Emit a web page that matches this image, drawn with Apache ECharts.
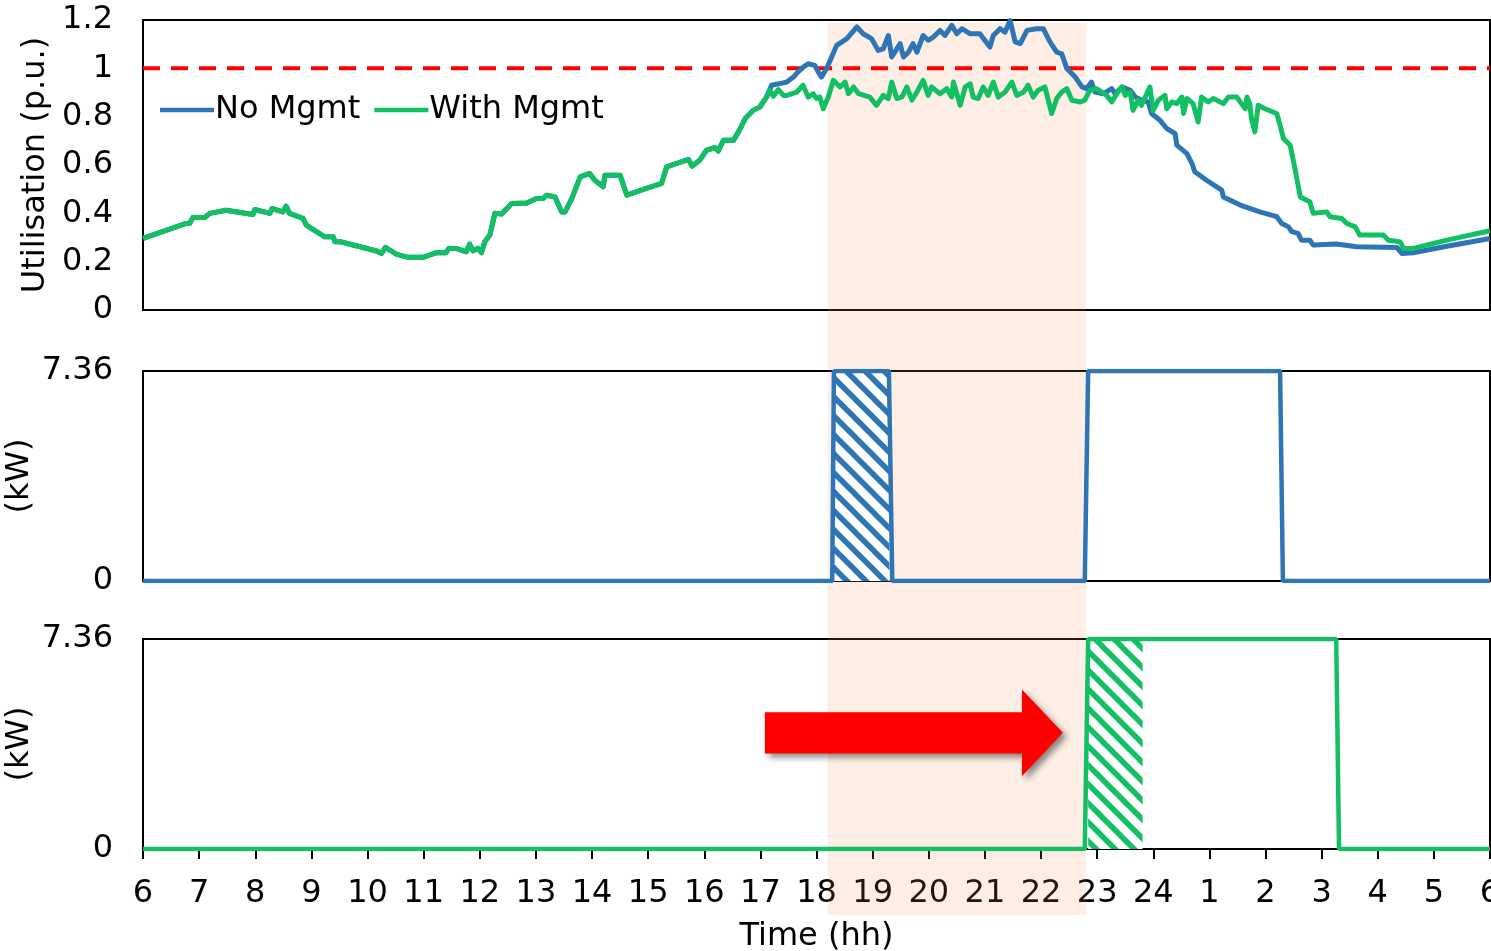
<!DOCTYPE html>
<html>
<head>
<meta charset="utf-8">
<script src="https://cdn.jsdelivr.net/npm/echarts@6/dist/echarts.min.js"></script>
<style>
  html, body { margin: 0; padding: 0; background: #fff; }
  #chart { width: 1491px; height: 951px; }
</style>
</head>
<body>
<div id="chart"></div>
<script>
// Time is in hours from 06:00 to 06:00 the next day; values above 24 fall after midnight.

// Transformer utilisation (p.u.), identical for both cases until the evening
const utilShared = [
  [6.00,0.296],[6.77,0.358],[6.83,0.358],[6.89,0.383],[7.10,0.383],[7.19,0.400],[7.48,0.413],
  [7.96,0.395],[7.99,0.416],[8.26,0.400],[8.30,0.420],[8.49,0.406],[8.55,0.430],[8.61,0.400],
  [8.85,0.379],[8.91,0.351],[9.09,0.324],[9.24,0.303],[9.39,0.303],[9.42,0.282],[9.53,0.282],
  [9.71,0.271],[10.16,0.244],[10.25,0.234],[10.32,0.259],[10.42,0.245],[10.51,0.231],[10.72,0.218],
  [10.99,0.218],[11.23,0.237],[11.40,0.237],[11.45,0.255],[11.58,0.255],[11.76,0.241],[11.82,0.273],
  [11.88,0.245],[11.97,0.255],[12.03,0.237],[12.09,0.282],[12.18,0.310],[12.27,0.400],[12.39,0.397],
  [12.57,0.441],[12.84,0.443],[13.01,0.461],[13.13,0.461],[13.19,0.475],[13.34,0.468],[13.46,0.406],
  [13.52,0.406],[13.64,0.461],[13.79,0.551],[13.96,0.565],[14.05,0.537],[14.20,0.510],[14.23,0.558],
  [14.50,0.558],[14.62,0.475],[14.97,0.503],[15.24,0.524],[15.33,0.592],[15.72,0.623],[15.78,0.595],
  [15.92,0.620],[16.04,0.661],[16.19,0.672],[16.25,0.658],[16.34,0.702],[16.52,0.702],[16.61,0.737],
  [16.73,0.792],[16.87,0.826],[16.99,0.840],[17.11,0.881]
];

// Evening utilisation without charging management
const utilNoMgmtEvening = [
  [17.20,0.930],[17.47,0.943],[17.59,0.964],[17.67,0.985],[17.77,1.006],[17.85,1.019],[17.97,1.012],
  [18.03,0.985],[18.09,0.964],[18.18,0.999],[18.36,1.095],[18.54,1.123],[18.72,1.171],[18.83,1.143],
  [18.98,1.123],[19.10,1.074],[19.19,1.081],[19.28,1.136],[19.34,1.047],[19.49,1.102],[19.55,1.047],
  [19.64,1.067],[19.72,1.102],[19.79,1.067],[19.90,1.136],[19.99,1.116],[20.08,1.129],[20.20,1.157],
  [20.29,1.136],[20.41,1.178],[20.50,1.143],[20.59,1.164],[20.74,1.143],[20.91,1.143],[21.09,1.088],
  [21.15,1.136],[21.27,1.164],[21.36,1.150],[21.45,1.198],[21.54,1.109],[21.63,1.102],[21.75,1.157],
  [21.92,1.164],[22.04,1.164],[22.16,1.109],[22.28,1.067],[22.37,1.060],[22.46,0.999],[22.61,0.964],
  [22.73,0.923],[22.81,0.916],[22.90,0.943],[22.96,0.902],[23.11,0.895],[23.26,0.916],[23.32,0.895],
  [23.44,0.923],[23.59,0.909],[23.68,0.881],[23.79,0.868],[23.91,0.861],[23.97,0.813],[24.12,0.785],
  [24.24,0.751],[24.39,0.730],[24.42,0.682],[24.60,0.647],[24.69,0.606],[24.74,0.572],[24.95,0.537],
  [25.22,0.496],[25.25,0.468],[25.55,0.434],[25.90,0.406],[26.20,0.386],[26.29,0.358],[26.41,0.344],
  [26.47,0.324],[26.58,0.317],[26.64,0.289],[26.79,0.289],[26.85,0.269],[27.27,0.273],[27.62,0.262],
  [28.34,0.259],[28.43,0.234],[28.63,0.237],[29.23,0.264],[30.00,0.296]
];

// Evening utilisation with charging management
const utilWithMgmtEvening = [
  [17.17,0.909],[17.23,0.884],[17.32,0.912],[17.41,0.888],[17.47,0.888],[17.65,0.902],[17.76,0.930],
  [17.85,0.881],[17.94,0.895],[18.00,0.875],[18.06,0.881],[18.12,0.833],[18.21,0.881],[18.30,0.950],
  [18.42,0.923],[18.51,0.943],[18.57,0.895],[18.66,0.923],[18.75,0.895],[18.95,0.881],[19.07,0.847],
  [19.19,0.888],[19.28,0.875],[19.34,0.943],[19.43,0.875],[19.52,0.881],[19.61,0.923],[19.70,0.868],
  [19.79,0.902],[19.90,0.950],[19.99,0.888],[20.05,0.923],[20.20,0.895],[20.32,0.916],[20.41,0.881],
  [20.44,0.943],[20.56,0.847],[20.65,0.923],[20.74,0.936],[20.79,0.881],[20.88,0.875],[20.97,0.923],
  [21.06,0.888],[21.15,0.943],[21.24,0.881],[21.36,0.902],[21.48,0.943],[21.57,0.888],[21.69,0.902],
  [21.77,0.930],[21.86,0.881],[21.95,0.909],[22.07,0.923],[22.19,0.813],[22.28,0.875],[22.37,0.902],
  [22.46,0.916],[22.55,0.868],[22.70,0.861],[22.78,0.868],[22.87,0.909],[22.99,0.916],[23.17,0.888],
  [23.26,0.861],[23.35,0.895],[23.44,0.923],[23.50,0.888],[23.59,0.902],[23.64,0.826],[23.73,0.868],
  [23.79,0.847],[23.94,0.923],[24.00,0.826],[24.09,0.868],[24.21,0.888],[24.24,0.833],[24.33,0.861],
  [24.42,0.854],[24.51,0.881],[24.54,0.813],[24.60,0.875],[24.71,0.854],[24.80,0.778],[24.86,0.881],
  [24.98,0.861],[25.07,0.875],[25.25,0.854],[25.34,0.881],[25.49,0.881],[25.55,0.861],[25.64,0.833],
  [25.67,0.881],[25.72,0.854],[25.75,0.792],[25.81,0.737],[25.87,0.847],[25.99,0.833],[26.20,0.813],
  [26.26,0.764],[26.32,0.709],[26.44,0.682],[26.53,0.579],[26.62,0.468],[26.79,0.448],[26.85,0.400],
  [27.09,0.406],[27.15,0.386],[27.36,0.379],[27.45,0.358],[27.60,0.344],[27.68,0.310],[28.10,0.310],
  [28.19,0.289],[28.40,0.282],[28.46,0.255],[28.63,0.255],[29.23,0.289],[30.00,0.328]
];

const thermalLimit = [[6, 1.0], [30, 1.0]];

// EV charging power (kW)
const chargerRating = 7.36;
const chargeNoMgmt = [
  [6,0],[18.28,0],[18.31,7.36],[19.29,7.36],[19.35,0],[22.78,0],[22.84,7.36],[26.26,7.36],[26.31,0],[30,0]
];
const chargeWithMgmt = [
  [6,0],[22.78,0],[22.84,7.36],[27.26,7.36],[27.31,0],[30,0]
];

// Hour of charging moved out of the evening peak: [start, end, kW]
const shiftedNoMgmt = [[18.31, 19.30, 7.36]];
const shiftedWithMgmt = [[22.84, 23.81, 7.36]];

// Evening peak window and the shift arrow: [from, to, kW level]
const peakWindow = [18.2, 22.8];
const shiftArrow = [[17.08, 22.39, 4.07]];

const hourLabel = v => (v > 24 ? v - 24 : v);

const FONT = 'DejaVu Sans';
const BLUE = '#2e75b6';
const GREEN = '#12bf62';

function hatchFill(color) {
  const s = 19;
  const c = document.createElement('canvas');
  c.width = s; c.height = s;
  const g = c.getContext('2d');
  g.strokeStyle = color;
  g.lineWidth = 5.5;
  for (const o of [-s, 0, s]) {
    g.beginPath();
    g.moveTo(o - 3, -3);
    g.lineTo(o + s + 3, s + 3);
    g.stroke();
  }
  return { image: c, repeat: 'repeat' };
}

function hatchRenderer(color) {
  const fill = hatchFill(color);
  return function (params, api) {
    const tl = api.coord([api.value(0), api.value(2)]);
    const br = api.coord([api.value(1), 0]);
    const shape = { x: tl[0], y: tl[1], width: br[0] - tl[0], height: br[1] - tl[1] };
    return {
      type: 'group',
      children: [
        { type: 'rect', shape: shape, style: { fill: '#fff' } },
        { type: 'rect', shape: shape, style: { fill: fill } }
      ]
    };
  };
}

function renderArrow(params, api) {
  const start = api.coord([api.value(0), api.value(2)]);
  const end = api.coord([api.value(1), api.value(2)]);
  const shaftHalf = api.size([0, 0.72])[1];
  const headHalf = api.size([0, 1.52])[1];
  const headLen = api.size([0.73, 0])[0];
  const y = start[1];
  const xh = end[0] - headLen;
  return {
    type: 'polygon',
    shape: {
      points: [
        [start[0], y - shaftHalf], [xh, y - shaftHalf], [xh, y - headHalf], [end[0], y],
        [xh, y + headHalf], [xh, y + shaftHalf], [start[0], y + shaftHalf]
      ]
    },
    style: {
      fill: '#ff0000',
      shadowBlur: 6,
      shadowColor: 'rgba(0,0,0,0.45)',
      shadowOffsetX: 4,
      shadowOffsetY: 4
    }
  };
}

const gridBox = {
  left: 143, right: 1, outerBoundsMode: 'none', containLabel: false,
  show: true, borderColor: '#000', borderWidth: 2, backgroundColor: 'transparent'
};
const hiddenX = (gridIndex) => ({
  type: 'value', gridIndex, min: 6, max: 30, interval: 1,
  axisLine: { show: false }, axisTick: { show: false }, axisLabel: { show: false }, splitLine: { show: false }
});
const labelStyle = { fontFamily: FONT, fontSize: 32, color: '#000' };
const kwAxis = (gridIndex) => ({
  type: 'value', gridIndex, min: 0, max: chargerRating, interval: chargerRating,
  name: '(kW)', nameLocation: 'middle', nameGap: 107, nameMoveOverlap: false,
  nameTextStyle: labelStyle,
  axisLine: { show: false }, axisTick: { show: false }, splitLine: { show: false },
  axisLabel: Object.assign({ margin: 30 }, labelStyle)
});

const chart = echarts.init(document.getElementById('chart'), null, { renderer: 'canvas' });

chart.setOption({
  animation: false,
  backgroundColor: '#fff',
  textStyle: { fontFamily: FONT },
  legend: {
    data: ['No Mgmt', 'With Mgmt'],
    left: 160, top: 94, padding: 0,
    icon: 'rect', itemWidth: 54, itemHeight: 4.5, itemGap: 14,
    textStyle: { fontFamily: FONT, fontSize: 32, color: '#000', padding: [0, 0, 0, -4] }
  },
  grid: [
    Object.assign({ top: 20, height: 290 }, gridBox),
    Object.assign({ top: 371, height: 210 }, gridBox),
    Object.assign({ top: 639, height: 210 }, gridBox),
    { left: 143, right: 1, top: 23, height: 892, show: false, outerBoundsMode: 'none' }
  ],
  xAxis: [
    hiddenX(0),
    hiddenX(1),
    {
      type: 'value', gridIndex: 2, min: 6, max: 30, interval: 1,
      name: 'Time (hh)', nameLocation: 'middle', nameGap: 72,
      nameTextStyle: labelStyle,
      axisLine: { show: true, lineStyle: { color: '#000', width: 2 } },
      axisTick: { show: true, length: 10, lineStyle: { color: '#000', width: 2 } },
      splitLine: { show: false },
      axisLabel: Object.assign({ margin: 29, showMinLabel: true, showMaxLabel: true, formatter: hourLabel }, labelStyle)
    },
    hiddenX(3)
  ],
  yAxis: [
    {
      type: 'value', gridIndex: 0, min: 0, max: 1.2, interval: 0.2,
      name: 'Utilisation (p.u.)', nameLocation: 'middle', nameGap: 88,
      nameTextStyle: labelStyle,
      axisLine: { show: false }, axisTick: { show: false }, splitLine: { show: false },
      axisLabel: Object.assign({ margin: 30 }, labelStyle)
    },
    kwAxis(1),
    kwAxis(2),
    { type: 'value', gridIndex: 3, min: 0, max: 1, show: false }
  ],
  series: [
    {
      name: 'Limit', type: 'line', xAxisIndex: 0, yAxisIndex: 0, data: thermalLimit,
      showSymbol: false, silent: true, z: 1,
      lineStyle: { color: '#ff0000', width: 4, type: [17, 11] }
    },
    {
      name: 'No Mgmt', type: 'line', xAxisIndex: 0, yAxisIndex: 0,
      data: utilShared.concat(utilNoMgmtEvening),
      showSymbol: false, z: 2, color: BLUE,
      lineStyle: { color: BLUE, width: 5, join: 'round' }
    },
    {
      name: 'With Mgmt', type: 'line', xAxisIndex: 0, yAxisIndex: 0,
      data: utilShared.concat(utilWithMgmtEvening),
      showSymbol: false, z: 2, color: GREEN,
      lineStyle: { color: GREEN, width: 5, join: 'round' }
    },
    {
      name: 'Peak window', type: 'line', xAxisIndex: 3, yAxisIndex: 3, data: [], silent: true, z: 3,
      markArea: {
        silent: true,
        itemStyle: { color: 'rgba(245,140,80,0.15)' },
        data: [[{ xAxis: peakWindow[0] }, { xAxis: peakWindow[1] }]]
      }
    },
    {
      name: 'Shifted (No Mgmt)', type: 'custom', xAxisIndex: 1, yAxisIndex: 1,
      data: shiftedNoMgmt, renderItem: hatchRenderer(BLUE), silent: true, z: 4
    },
    {
      name: 'Shifted (With Mgmt)', type: 'custom', xAxisIndex: 2, yAxisIndex: 2,
      data: shiftedWithMgmt, renderItem: hatchRenderer(GREEN), silent: true, z: 4
    },
    {
      name: 'Charging (No Mgmt)', type: 'line', xAxisIndex: 1, yAxisIndex: 1, data: chargeNoMgmt,
      showSymbol: false, z: 5, lineStyle: { color: BLUE, width: 4.5 }
    },
    {
      name: 'Charging (With Mgmt)', type: 'line', xAxisIndex: 2, yAxisIndex: 2, data: chargeWithMgmt,
      showSymbol: false, z: 5, lineStyle: { color: GREEN, width: 4.5 }
    },
    {
      name: 'Shift', type: 'custom', xAxisIndex: 2, yAxisIndex: 2,
      data: shiftArrow, renderItem: renderArrow, silent: true, z: 6, clip: false
    }
  ]
});
</script>
</body>
</html>
